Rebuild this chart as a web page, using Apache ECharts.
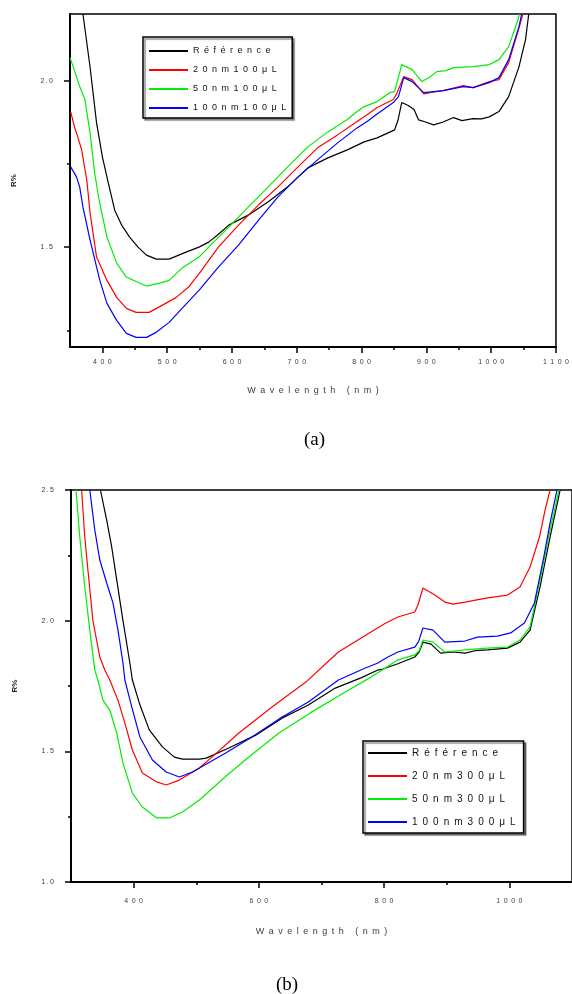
<!DOCTYPE html>
<html>
<head>
<meta charset="utf-8">
<script src="https://cdn.jsdelivr.net/npm/echarts@6/dist/echarts.min.js"></script>
<style>
  body { margin: 0; background: #fff; }
  #chart { width: 572px; height: 994px; }
</style>
</head>
<body>
<div id="chart"></div>
<script>
// ---- data: (a) 100 µL ----
const namesA = ['Référence', '20nm100μL', '50nm100μL', '100nm100μL']
const refA = [[370,2.2],[381,2.04],[391,1.873],[400,1.771],[408,1.702],[419,1.611],[430,1.565],[442,1.53],[455,1.5],[468,1.476],[483,1.464],[503,1.464],[529,1.485],[549,1.5],[564,1.515],[580,1.54],[595,1.566],[625,1.596],[656,1.636],[686,1.681],[717,1.738],[748,1.768],[778,1.792],[804,1.816],[824,1.828],[851,1.852],[856,1.88],[862,1.934],[872,1.925],[881,1.913],[888,1.882],[900,1.875],[911,1.867],[925,1.875],[942,1.889],[955,1.88],[972,1.886],[985,1.885],[997,1.891],[1012,1.907],[1027,1.952],[1043,2.042],[1053,2.123],[1058,2.2]]
const red20A = [[351,1.907],[357,1.86],[362,1.831],[368,1.792],[376,1.70],[381,1.602],[391,1.47],[407,1.40],[422,1.349],[437,1.316],[452,1.304],[472,1.304],[492,1.325],[514,1.349],[533,1.38],[551,1.425],[579,1.5],[610,1.566],[641,1.627],[671,1.681],[702,1.741],[732,1.798],[763,1.837],[793,1.877],[809,1.898],[824,1.919],[849,1.943],[855,1.964],[865,2.012],[878,2.003],[896,1.96],[910,1.965],[926,1.97],[957,1.985],[972,1.979],[997,1.997],[1012,2.003],[1027,2.054],[1041,2.145],[1049,2.2]]
const green50A = [[350,2.069],[357,2.03],[365,1.982],[373,1.943],[381,1.843],[388,1.723],[395,1.64],[407,1.53],[422,1.452],[437,1.41],[457,1.392],[468,1.383],[488,1.392],[503,1.40],[523,1.437],[535,1.452],[549,1.47],[564,1.5],[595,1.56],[625,1.62],[656,1.681],[686,1.741],[717,1.801],[748,1.846],[778,1.883],[793,1.907],[804,1.922],[824,1.937],[844,1.964],[851,1.967],[862,2.048],[878,2.033],[893,1.997],[905,2.01],[916,2.027],[930,2.03],[942,2.039],[972,2.042],[997,2.048],[1012,2.063],[1027,2.102],[1038,2.163],[1044,2.2]]
const blue100A = [[351,1.741],[360,1.711],[365,1.68],[370,1.62],[381,1.521],[396,1.40],[407,1.331],[422,1.28],[437,1.241],[452,1.229],[468,1.229],[483,1.244],[503,1.274],[523,1.316],[549,1.37],[579,1.44],[610,1.506],[641,1.581],[671,1.651],[702,1.711],[732,1.762],[763,1.813],[793,1.858],[809,1.878],[824,1.9],[849,1.934],[857,1.952],[865,2.009],[878,1.997],[896,1.964],[926,1.97],[957,1.982],[972,1.979],[997,1.994],[1012,2.009],[1027,2.063],[1043,2.163],[1047,2.2]]

// ---- data: (b) 300 µL ----
const namesB = ['Référence', '20nm300μL', '50nm300μL', '100nm300μL']
const refB = [[347,2.5],[357,2.385],[365,2.282],[373,2.156],[383,2.0],[394,1.838],[398,1.773],[410,1.678],[425,1.582],[441,1.532],[446,1.517],[465,1.478],[478,1.47],[505,1.47],[516,1.474],[552,1.513],[595,1.562],[637,1.627],[679,1.677],[722,1.742],[763,1.781],[790,1.811],[798,1.815],[822,1.835],[849,1.861],[856,1.88],[862,1.918],[875,1.91],[890,1.876],[910,1.88],[929,1.876],[945,1.885],[965,1.888],[997,1.895],[1017,1.918],[1033,1.964],[1049,2.129],[1065,2.32],[1081,2.5]]
const red20B = [[317,2.5],[322,2.32],[327,2.194],[335,2.0],[346,1.861],[354,1.811],[362,1.773],[375,1.696],[386,1.608],[398,1.505],[414,1.417],[437,1.383],[452,1.371],[473,1.39],[505,1.436],[525,1.478],[568,1.57],[621,1.67],[675,1.765],[727,1.88],[779,1.957],[802,1.99],[822,2.014],[849,2.033],[854,2.06],[862,2.125],[881,2.098],[897,2.071],[910,2.063],[929,2.071],[965,2.087],[997,2.098],[1017,2.129],[1033,2.205],[1048,2.32],[1057,2.423],[1065,2.5]]
const green50B = [[308,2.5],[314,2.32],[322,2.129],[330,1.964],[338,1.811],[343,1.773],[351,1.696],[362,1.658],[373,1.57],[383,1.455],[398,1.34],[414,1.287],[437,1.245],[457,1.245],[478,1.268],[505,1.314],[545,1.4],[584,1.478],[632,1.57],[684,1.65],[738,1.727],[779,1.784],[802,1.819],[822,1.85],[849,1.869],[856,1.885],[862,1.926],[878,1.918],[897,1.88],[929,1.888],[965,1.895],[997,1.899],[1017,1.926],[1033,1.976],[1049,2.156],[1065,2.347],[1079,2.5]]
const blue100B = [[330,2.5],[338,2.347],[346,2.232],[357,2.144],[367,2.068],[375,1.964],[383,1.838],[386,1.773],[397,1.67],[410,1.555],[430,1.467],[452,1.421],[473,1.402],[494,1.421],[547,1.494],[589,1.555],[637,1.631],[679,1.689],[727,1.773],[770,1.819],[790,1.838],[806,1.861],[822,1.88],[849,1.899],[855,1.92],[862,1.972],[878,1.964],[897,1.918],[929,1.922],[949,1.937],[981,1.941],[1002,1.953],[1024,1.991],[1040,2.068],[1055,2.244],[1065,2.374],[1076,2.5]]

// ---- ticks ----
const xLabelsA = [400, 500, 600, 700, 800, 900, 1000, 1100]
const xMinorA = [450, 550, 650, 750, 850, 950, 1050]
const yLabelsA = [1.5, 2.0]
const yMinorA = [1.25, 1.75]
const xLabelsB = [400, 600, 800, 1000]
const xMinorB = [500, 700, 900]
const yLabelsB = [1.0, 1.5, 2.0, 2.5]
const yMinorB = [1.25, 1.75, 2.25]

const colors = ['#000000', '#ff0000', '#00ee00', '#0000ff']
const FONT = 'Liberation Sans'

function spaced(s, sep) {
  return String(s).split('').join(sep)
}

function xAxisPair(grid, min, max, labels, minors, margin, gap) {
  return [
    {
      type: 'value', gridIndex: grid, min: min, max: max, position: 'bottom',
      axisLine: { lineStyle: { color: '#000', width: 2 } },
      axisTick: { customValues: minors, length: 3, lineStyle: { color: '#000', width: 1.5 } },
      axisLabel: { customValues: labels, margin: margin, fontSize: 7, color: '#443a30', fontFamily: FONT,
        formatter: v => spaced(v, '\u2002') },
      splitLine: { show: false },
      name: spaced('Wavelength (nm)', '\u2002'), nameLocation: 'middle', nameGap: gap,
      nameTextStyle: { fontSize: 9, color: '#443a30', fontFamily: FONT }
    },
    {
      // second axis only carries the long (labelled) ticks
      type: 'value', gridIndex: grid, min: min, max: max, position: 'bottom',
      axisLine: { show: false },
      axisTick: { customValues: labels, length: 6, lineStyle: { color: '#000', width: 1.5 } },
      axisLabel: { show: false },
      splitLine: { show: false }
    }
  ]
}

function yAxisPair(grid, min, max, labels, minors) {
  return [
    {
      type: 'value', gridIndex: grid, min: min, max: max, position: 'left',
      axisLine: { lineStyle: { color: '#000', width: 2 } },
      axisTick: { customValues: minors, length: 3, lineStyle: { color: '#000', width: 1.5 } },
      axisLabel: { customValues: labels, margin: 17, fontSize: 7, color: '#443a30', fontFamily: FONT,
        formatter: v => spaced(v.toFixed(1), '\u2009') },
      splitLine: { show: false },
      name: 'R%', nameLocation: 'middle', nameGap: 52,
      nameTextStyle: { fontSize: 8, color: '#222', fontFamily: FONT, fontWeight: 'bold' }
    },
    {
      type: 'value', gridIndex: grid, min: min, max: max, position: 'left',
      axisLine: { show: false },
      axisTick: { customValues: labels, length: 6, lineStyle: { color: '#000', width: 1.5 } },
      axisLabel: { show: false },
      splitLine: { show: false }
    }
  ]
}

function lines(names, datas, xi, yi) {
  return datas.map((d, i) => ({
    name: names[i], type: 'line', xAxisIndex: xi, yAxisIndex: yi,
    data: d, showSymbol: false, clip: true,
    lineStyle: { color: colors[i], width: 1.2 }, itemStyle: { color: colors[i] }
  }))
}

function legendBox(names, left, top, gap, pad, size) {
  return {
    data: names, orient: 'vertical', left: left, top: top,
    icon: 'rect', itemWidth: 39, itemHeight: 2, itemGap: gap,
    padding: pad, backgroundColor: '#fff',
    borderColor: '#000', borderWidth: 1.5,
    shadowColor: 'rgba(0,0,0,0.45)', shadowOffsetX: 2, shadowOffsetY: 2, shadowBlur: 1,
    textStyle: { fontSize: size, color: '#111', fontFamily: FONT, lineHeight: 10 },
    formatter: n => spaced(n, '\u2002'),
    selectedMode: false
  }
}

let chart = echarts.init(document.getElementById('chart'))
let option = {
  backgroundColor: '#fff',
  animation: false,
  title: [
    { text: '(a)', left: 299, top: 426, textStyle: { fontFamily: 'Liberation Serif', fontSize: 19, fontWeight: 'normal', color: '#000' } },
    { text: '(b)', left: 271, top: 971, textStyle: { fontFamily: 'Liberation Serif', fontSize: 19, fontWeight: 'normal', color: '#000' } }
  ],
  grid: [
    { left: 70, top: 14, width: 491, height: 333, show: true, borderColor: '#000', borderWidth: 1.5 },
    { left: 71, top: 490, width: 504, height: 392, show: true, borderColor: '#000', borderWidth: 1.5 }
  ],
  xAxis: xAxisPair(0, 350, 1100, xLabelsA, xMinorA, 12, 39)
    .concat(xAxisPair(1, 300, 1100, xLabelsB, xMinorB, 16, 45)),
  yAxis: yAxisPair(0, 1.2, 2.2, yLabelsA, yMinorA)
    .concat(yAxisPair(1, 1.0, 2.5, yLabelsB, yMinorB)),
  legend: [
    legendBox(namesA, 143, 37, 9, [9, 6, 5, 6], 9),
    legendBox(namesB, 363, 741, 13, [7, 8, 6, 5], 10)
  ],
  series: lines(namesA, [refA, red20A, green50A, blue100A], 0, 0)
    .concat(lines(namesB, [refB, red20B, green50B, blue100B], 2, 2))
}
chart.setOption(option)
</script>
</body>
</html>
